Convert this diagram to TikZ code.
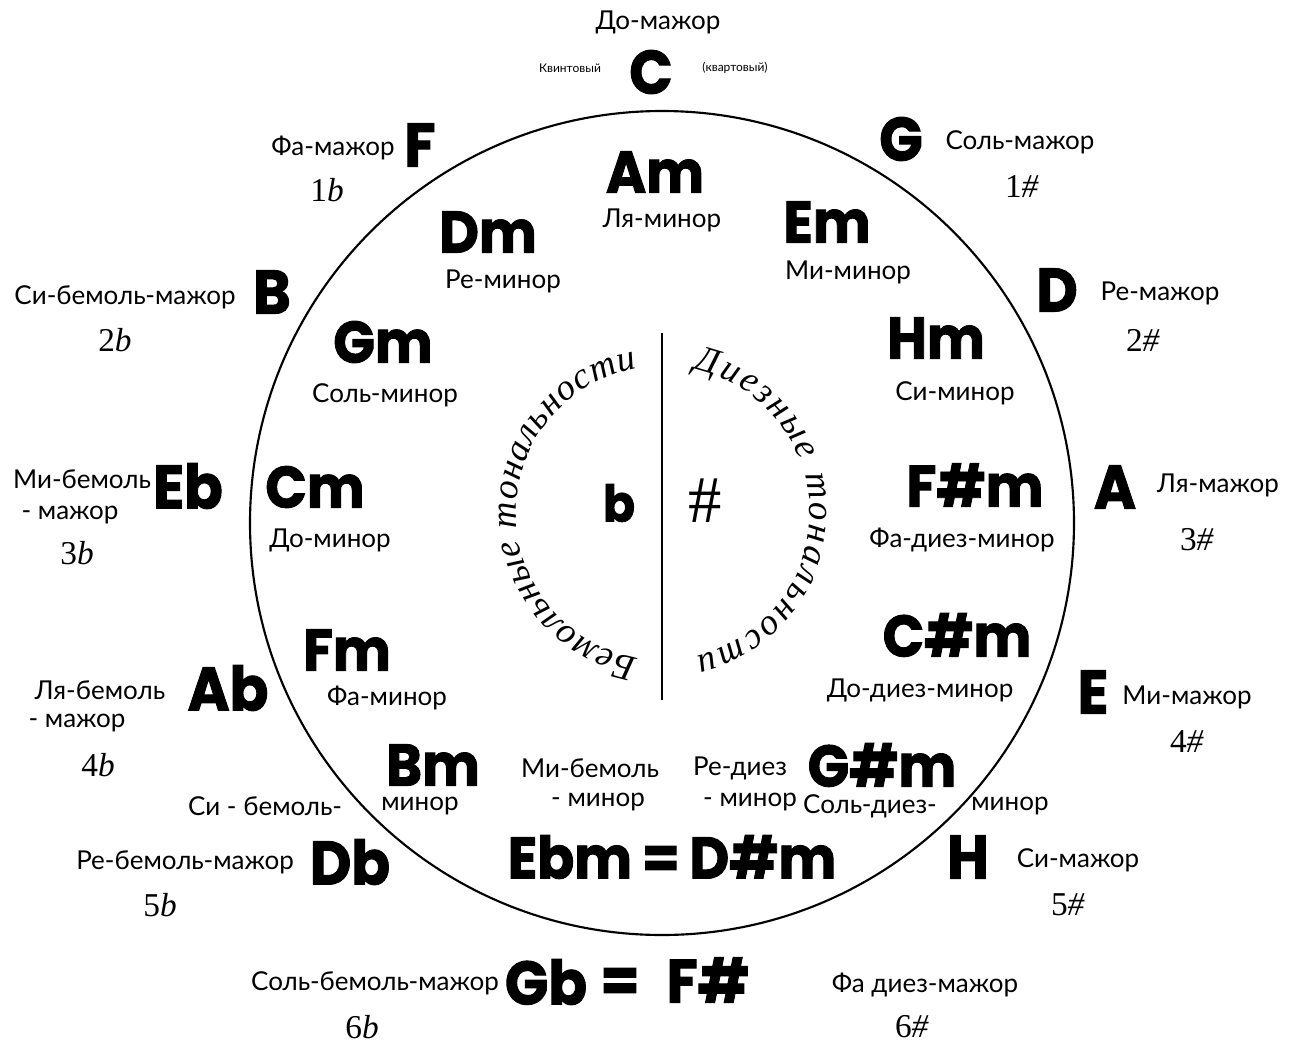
\documentclass[tikz,border=0pt]{standalone}
\usepackage{fontspec}
\setmainfont{Lato}
\newfontfamily\keyfont{Poppins}[BoldFeatures={FakeBold=1.6,FakeStretch=0.93}]
\newfontfamily\numfont{Liberation Serif}
\usetikzlibrary{decorations.text}
\tikzset{
  key/.style={font=\keyfont\bfseries\fontsize{46}{46}\selectfont, inner sep=0pt},
  mkey/.style={font=\keyfont\bfseries\fontsize{44}{44}\selectfont, inner sep=0pt},
  lbl/.style={font=\fontsize{19.5}{22}\selectfont, inner sep=0pt},
  num/.style={font=\numfont\fontsize{25}{25}\selectfont, inner sep=0pt},
  tiny/.style={font=\fontsize{9}{10}\selectfont, inner sep=0pt},
  rim/.style={line width=1.6pt},
  arctext/.style={decorate, decoration={text along path, text align={fit to path},
     text={|\numfont\itshape\fontsize{27.5}{28}\selectfont|#1}}}
}
\newcommand{\flt}{\textit{b}}
\newcommand{\shp}{\textit{\#}}
\begin{document}
\begin{tikzpicture}[x=0.75pt,y=0.75pt]
\useasboundingbox[fill=white] (0,0) rectangle (1290,-1046);

% main circle
\coordinate (O) at (662,-523);
\draw[rim] (O) circle[radius=412];

% inner divider and curved labels
\coordinate (ctr) at (663,-513);
\coordinate (divtop) at (662,-333);
\coordinate (divbot) at (662,-700);
\draw[line width=1.3pt] (divtop) -- (divbot);
\path[arctext={Бемольные тональности}] ([shift={(260:147)}]ctr) arc[start angle=260, end angle=100, radius=147];
\path[arctext={Диезные тональности}] ([shift={(78:147)}]ctr) arc[start angle=78, end angle=-77, radius=147];
\node[font=\keyfont\bfseries\fontsize{38}{38}\selectfont, inner sep=0pt] (flat) at (619,-503) {b};
\node[font=\numfont\fontsize{50}{50}\selectfont, inner sep=0pt] (sharp) at (705,-501) {\#};

% top: C
\node[lbl] (Cl) at (658,-22) {До-мажор};
\node[key] (C) at (651,-72) {C};
\node[tiny] (kv1) at (570,-68) {Квинтовый};
\node[tiny] (kv2) at (735,-68) {(квартовый)};

% F / G
\node[key] (F) at (420,-145) {F};
\node[lbl] (Fl) at (333,-148) {Фа-мажор};
\node[num] (Fn) at (327,-190) {1\flt};
\node[key] (G) at (901,-139) {G};
\node[lbl] (Gl) at (1020,-142) {Соль-мажор};
\node[num] (Gn) at (1022,-186) {1\shp};

% minors top
\node[mkey] (Am) at (655,-172) {Am};
\node[lbl] (Aml) at (662,-220) {Ля-минор};
\node[mkey] (Dm) at (488,-232) {Dm};
\node[lbl] (Dml) at (503,-281) {Ре-минор};
\node[mkey] (Em) at (827,-222) {Em};
\node[lbl] (Eml) at (848,-272) {Ми-минор};

% B / D
\node[key] (B) at (272,-292) {B};
\node[lbl] (Bl) at (125,-297) {Си-бемоль-мажор};
\node[num] (Bn) at (115,-340) {2\flt};
\node[key] (D) at (1057,-290) {D};
\node[lbl] (Dl) at (1160,-293) {Ре-мажор};
\node[num] (Dn) at (1143,-340) {2\shp};

\node[mkey] (Gm) at (383,-342) {Gm};
\node[lbl] (Gml) at (385,-395) {Соль-минор};
\node[mkey] (Hm) at (936,-338) {Hm};
\node[lbl] (Hml) at (955,-393) {Си-минор};

% Eb / A
\node[key] (Eb) at (188,-486) {Eb};
\node[lbl] (Ebl1) at (82,-479) {Ми-бемоль};
\node[lbl] (Ebl2) at (70,-515) {- мажор};
\node[num] (Ebn) at (77,-553) {3\flt};
\node[mkey] (Cm) at (315,-487) {Cm};
\node[lbl] (Cml) at (330,-540) {До-минор};
\node[mkey] (Fsm) at (975,-485) {F\#m};
\node[lbl] (Fsml) at (962,-540) {Фа-диез-минор};
\node[key] (A) at (1115,-487) {A};
\node[lbl] (Al) at (1218,-485) {Ля-мажор};
\node[num] (An) at (1197,-540) {3\shp};

% Ab / E
\node[mkey] (Fm) at (347,-650) {Fm};
\node[lbl] (Fml) at (387,-698) {Фа-минор};
\node[mkey] (Csm) at (957,-635) {C\#m};
\node[lbl] (Csml) at (920,-690) {До-диез-минор};
\node[key] (Ab) at (228,-688) {Ab};
\node[lbl] (Abl1) at (100,-690) {Ля-бемоль};
\node[lbl] (Abl2) at (77,-723) {- мажор};
\node[num] (Abn) at (98,-765) {4\flt};
\node[key] (E) at (1093,-692) {E};
\node[lbl] (El) at (1187,-697) {Ми-мажор};
\node[num] (En) at (1187,-742) {4\shp};

% lower minors
\node[mkey] (Bm) at (433,-765) {Bm};
\node[lbl] (Bml2) at (420,-806) {минор};
\node[lbl] (Bml1) at (265,-806) {Си - бемоль-};
\node[lbl] (Ebml1) at (590,-768) {Ми-бемоль};
\node[lbl] (Ebml2) at (598,-802) {- минор};
\node[lbl] (Dsml1) at (740,-768) {Ре-диез};
\node[lbl] (Dsml2) at (750,-802) {- минор};
\node[mkey] (Gsm) at (882,-765) {G\#m};
\node[lbl] (Gsml1) at (870,-806) {Соль-диез-};
\node[lbl] (Gsml2) at (1010,-806) {минор};
\node[mkey] (EbmDsm) at (672,-857) {Ebm\,=\,D\#m};

% Db / H
\node[key] (Db) at (350,-862) {Db};
\node[lbl] (Dbl) at (185,-862) {Ре-бемоль-мажор};
\node[num] (Dbn) at (160,-905) {5\flt};
\node[key] (H) at (968,-857) {H};
\node[lbl] (Hl) at (1078,-860) {Си-мажор};
\node[num] (Hn) at (1068,-905) {5\shp};

% Gb = F#
\node[key] (Gb) at (546,-982) {Gb};
\node[key] (eq) at (620,-985) {=};
\node[key] (Fs) at (708,-980) {F\#};
\node[lbl] (Gbl) at (375,-983) {Соль-бемоль-мажор};
\node[num] (Gbn) at (362,-1027) {6\flt};
\node[lbl] (Fsl) at (925,-985) {Фа диез-мажор};
\node[num] (Fsn) at (912,-1027) {6\shp};
\end{tikzpicture}
\end{document}
